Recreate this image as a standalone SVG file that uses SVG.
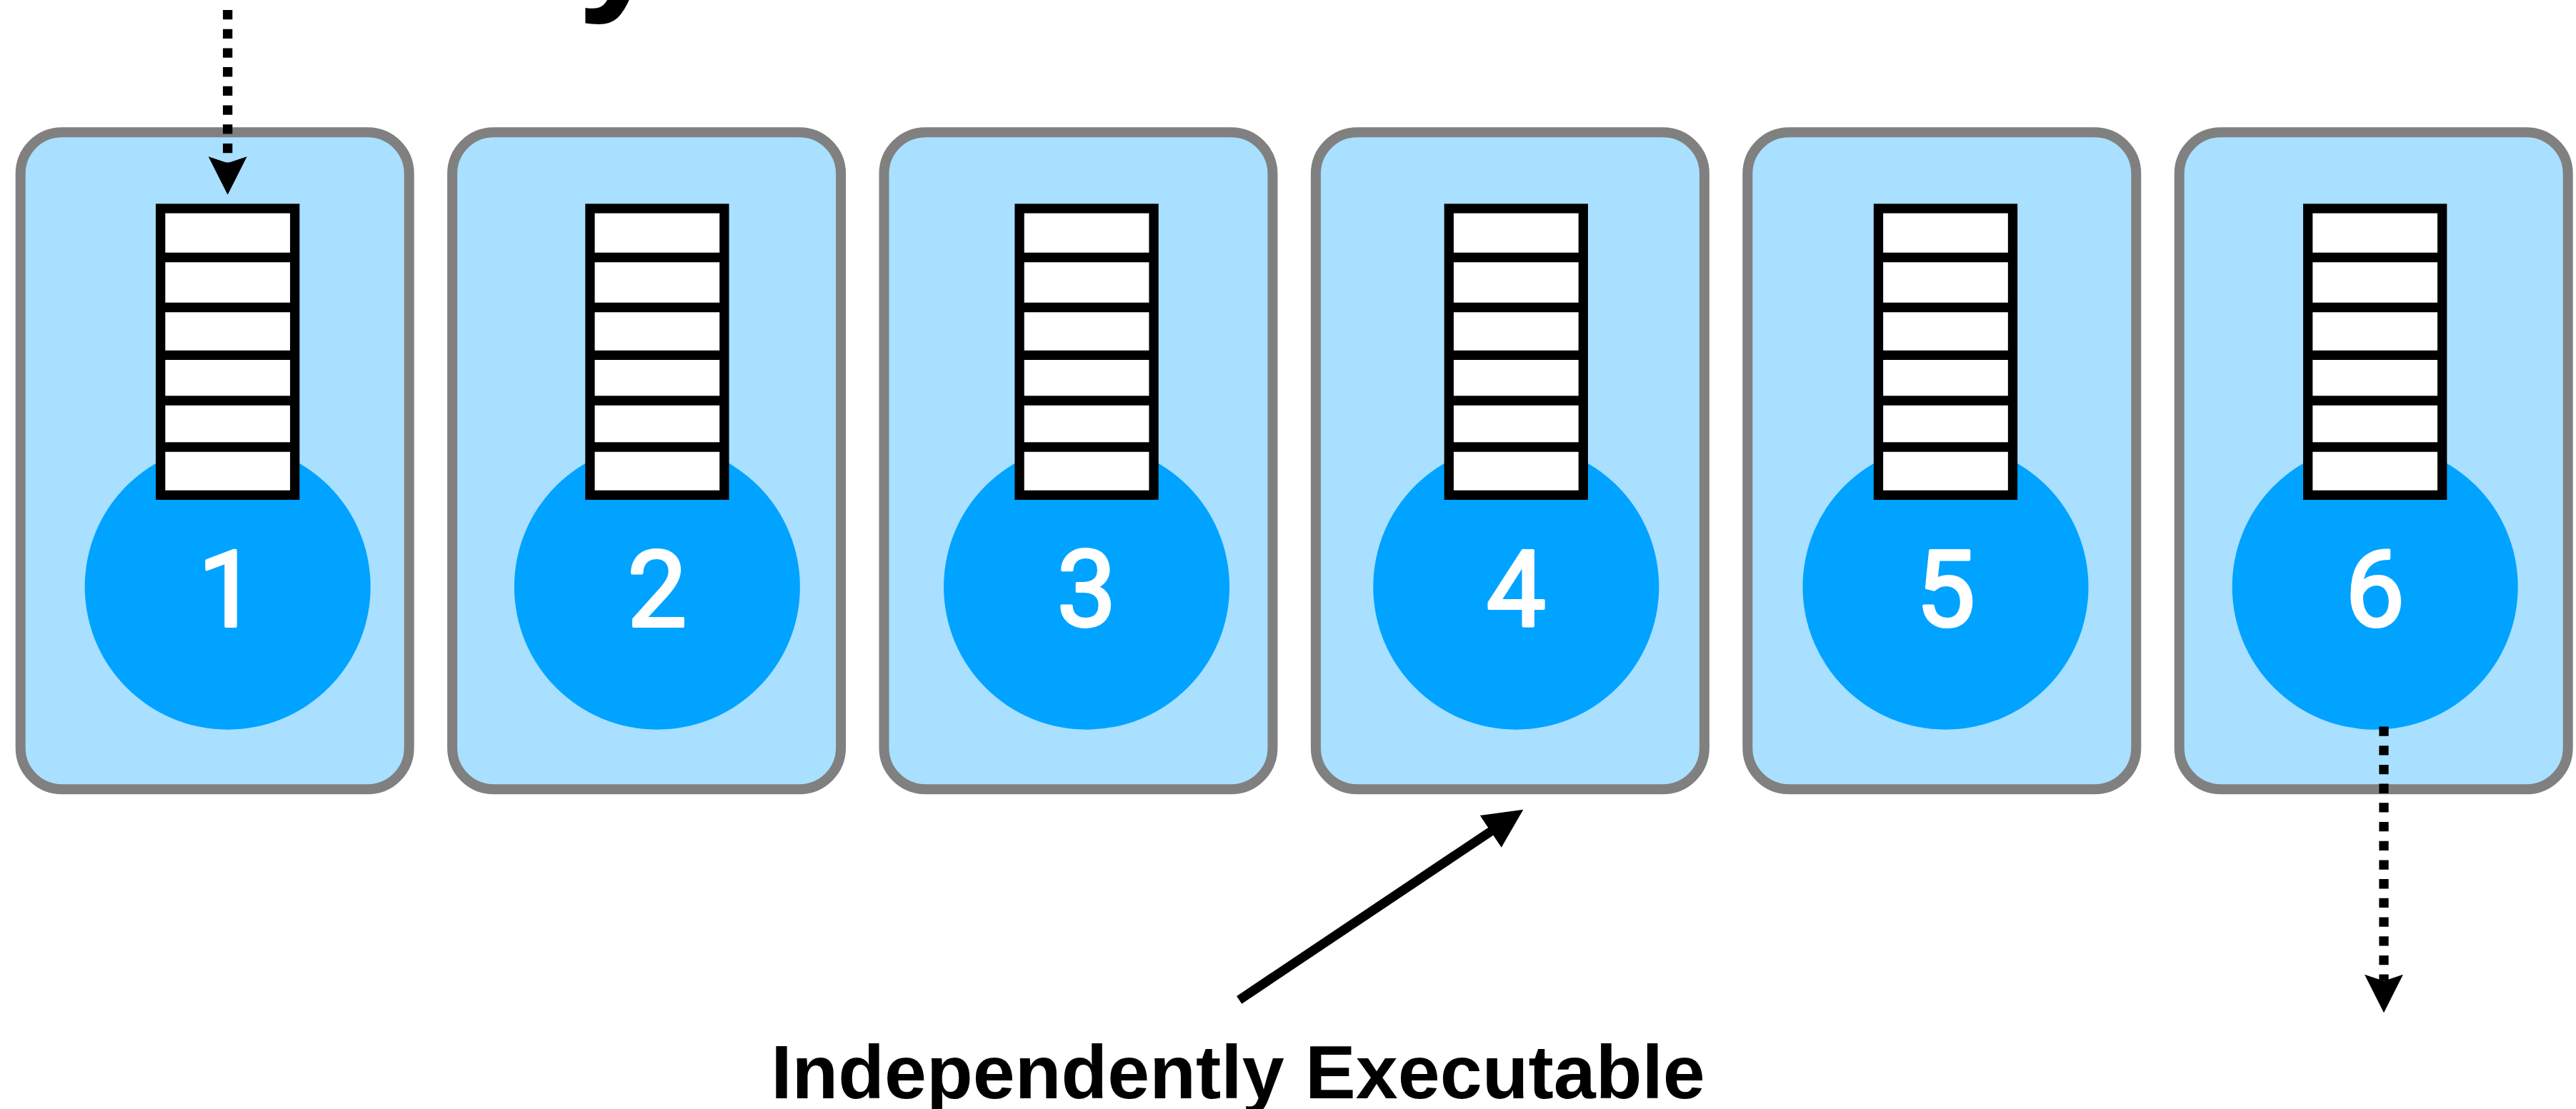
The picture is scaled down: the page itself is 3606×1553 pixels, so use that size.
<svg xmlns="http://www.w3.org/2000/svg" xmlns:xlink="http://www.w3.org/1999/xlink" width="3606" height="1553" viewBox="0 0 3606 1553">
  <style>
    .box { fill: #A9DFFF; stroke: #808080; stroke-width: 14; }
    .core { fill: #00A3FF; }
    .slot { fill: #FFFFFF; stroke: #000000; stroke-width: 13.3; }
    .div { stroke: #000000; stroke-width: 13.3; }
    .num { font-family: Roboto, "Liberation Sans", Arial, sans-serif; font-weight: 400; font-size: 148px; fill: #FFFFFF; stroke: #FFFFFF; stroke-width: 4; stroke-linejoin: round; paint-order: stroke; text-anchor: middle; }
    .label { font-family: "Liberation Sans", Arial, Helvetica, sans-serif; font-weight: 700; font-size: 106px; fill: #000000; }
    .dotted { fill: none; stroke: #000000; stroke-width: 13.3; stroke-dasharray: 13.3 13.4; }
    .solid { fill: none; stroke: #000000; stroke-width: 13; }
  </style>
  <defs>
    <!-- notched head for the dotted flow arrows -->
    <marker id="notchHead" markerUnits="userSpaceOnUse" viewBox="0 -28 56 56" markerWidth="56" markerHeight="56" refX="9" refY="0" orient="auto">
      <path d="M0,-27 L53.5,0 L0,27 L9,0 Z" fill="#000000"/>
    </marker>
    <!-- plain triangular head for the pointer arrow -->
    <marker id="triHead" markerUnits="userSpaceOnUse" viewBox="0 -28 58 56" markerWidth="58" markerHeight="56" refX="1" refY="0" orient="auto">
      <path d="M0,-27 L55,0 L0,27 Z" fill="#000000"/>
    </marker>
    <!-- six-slot queue, centred on x=0 -->
    <g id="queue">
      <rect class="slot" x="-94" y="292" width="188" height="401.3"/>
      <line class="div" x1="-94" y1="360.5" x2="94" y2="360.5"/>
      <line class="div" x1="-94" y1="430.5" x2="94" y2="430.5"/>
      <line class="div" x1="-94" y1="497.3" x2="94" y2="497.3"/>
      <line class="div" x1="-94" y1="561" x2="94" y2="561"/>
      <line class="div" x1="-94" y1="626" x2="94" y2="626"/>
    </g>
  </defs>

  <rect width="3606" height="1553" fill="#FFFFFF"/>

  <!-- heading text running off the top edge -->
  <text class="label" x="808" y="-12" style="font-size:220px">y</text>

  <g id="node1">
    <rect class="box" x="28.7" y="185.3" width="544" height="920" rx="58"/>
    <circle class="core" cx="318.7" cy="821.7" r="200"/>
    <use xlink:href="#queue" href="#queue" transform="translate(318.7 0)"/>
    <text class="num" x="318.7" y="876.7">1</text>
  </g>
  <g id="node2">
    <rect class="box" x="633.1" y="185.3" width="544" height="920" rx="58"/>
    <circle class="core" cx="919.9" cy="821.7" r="200"/>
    <use xlink:href="#queue" href="#queue" transform="translate(919.9 0)"/>
    <text class="num" x="919.9" y="876.7">2</text>
  </g>
  <g id="node3">
    <rect class="box" x="1237.5" y="185.3" width="544" height="920" rx="58"/>
    <circle class="core" cx="1521.1" cy="821.7" r="200"/>
    <use xlink:href="#queue" href="#queue" transform="translate(1521.1 0)"/>
    <text class="num" x="1521.1" y="876.7">3</text>
  </g>
  <g id="node4">
    <rect class="box" x="1841.9" y="185.3" width="544" height="920" rx="58"/>
    <circle class="core" cx="2122.3" cy="821.7" r="200"/>
    <use xlink:href="#queue" href="#queue" transform="translate(2122.3 0)"/>
    <text class="num" x="2122.3" y="876.7">4</text>
  </g>
  <g id="node5">
    <rect class="box" x="2446.3" y="185.3" width="544" height="920" rx="58"/>
    <circle class="core" cx="2723.5" cy="821.7" r="200"/>
    <use xlink:href="#queue" href="#queue" transform="translate(2723.5 0)"/>
    <text class="num" x="2723.5" y="876.7">5</text>
  </g>
  <g id="node6">
    <rect class="box" x="3050.7" y="185.3" width="544" height="920" rx="58"/>
    <circle class="core" cx="3324.7" cy="821.7" r="200"/>
    <use xlink:href="#queue" href="#queue" transform="translate(3324.7 0)"/>
    <text class="num" x="3324.7" y="876.7">6</text>
  </g>

  <g id="connectors">
    <line class="dotted" x1="318.7" y1="14" x2="318.7" y2="228.3" marker-end="url(#notchHead)"/>
    <line class="dotted" x1="3337" y1="1017.5" x2="3337" y2="1373.7" marker-end="url(#notchHead)"/>
    <line class="solid" x1="1734.7" y1="1400.3" x2="2087.5" y2="1163.8" marker-end="url(#triHead)"/>
  </g>

  <g id="caption">
    <text class="label" x="1733" y="1538.3" text-anchor="middle">Independently Executable</text>
  </g>
</svg>
